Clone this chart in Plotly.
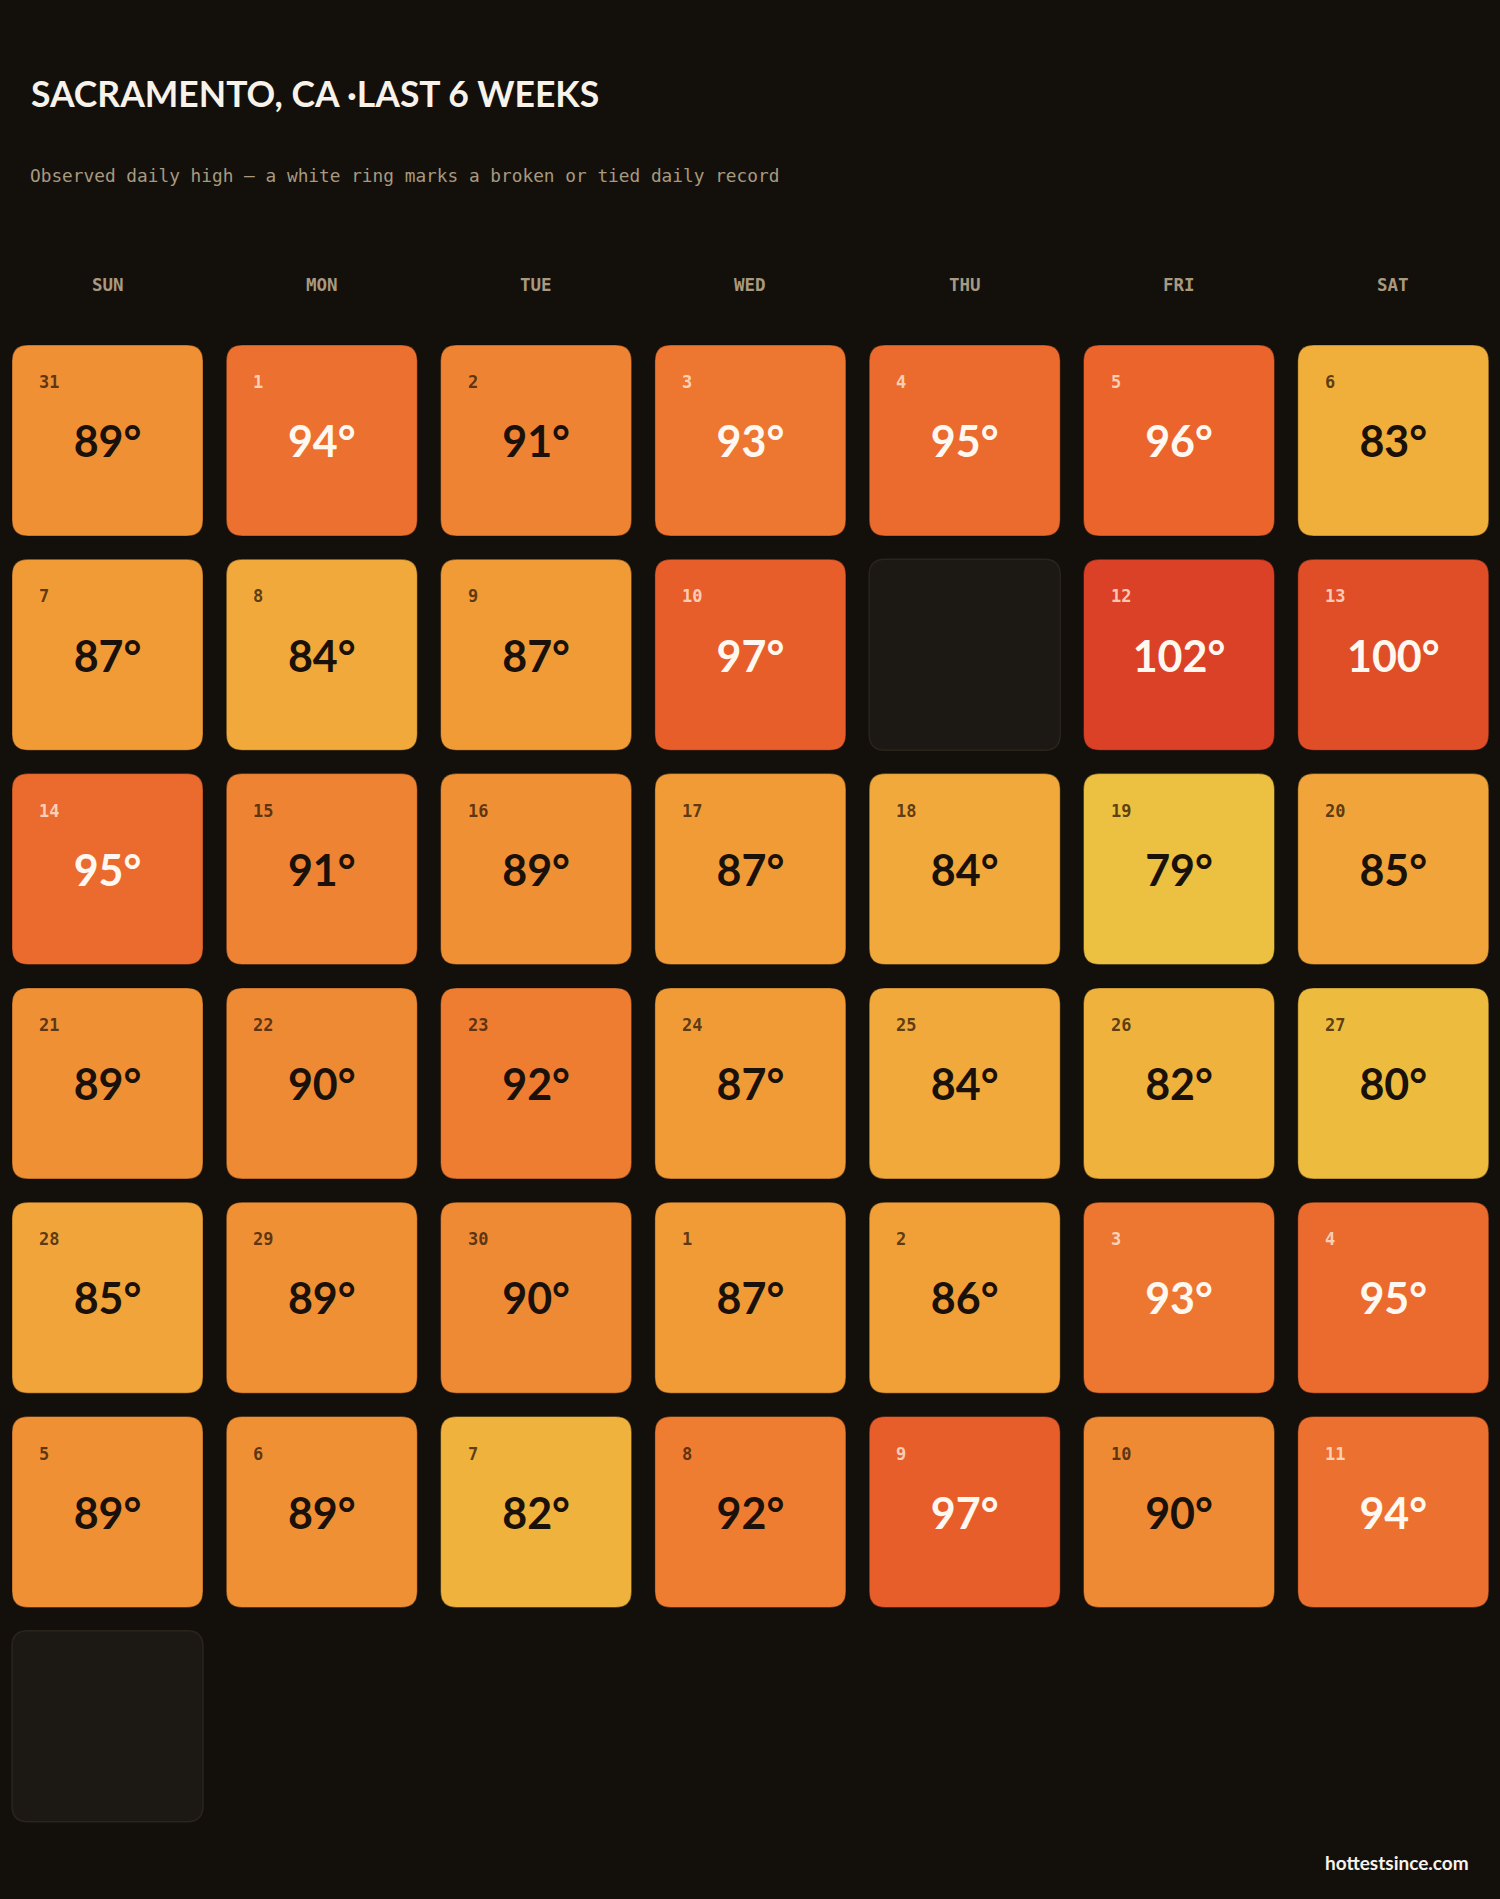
import plotly.graph_objects as go
from plotly.colors import sample_colorscale

# ---------------- data ----------------
title_text = "SACRAMENTO, CA ·LAST 6 WEEKS"
subtitle_text = "Observed daily high — a white ring marks a broken or tied daily record"
footer_text = "hottestsince.com"
weekdays = ["SUN", "MON", "TUE", "WED", "THU", "FRI", "SAT"]

day_numbers = [31] + list(range(1, 31)) + list(range(1, 13))
daily_highs = [
    89, 94, 91, 93, 95, 96, 83,
    87, 84, 87, 97, None, 102, 100,
    95, 91, 89, 87, 84, 79, 85,
    89, 90, 92, 87, 84, 82, 80,
    85, 89, 90, 87, 86, 93, 95,
    89, 89, 82, 92, 97, 90, 94,
    None,
]
record_days = [False] * len(daily_highs)

# colour scale (temperature -> colour)
scale_temps = [79, 83, 87, 90, 93, 96, 100, 102]
scale_colors = ["#ecc040", "#f0ae3b", "#f19b37", "#ef8a34", "#ed7631", "#ea642c", "#e04e28", "#db4126"]

# ---------------- style / layout ----------------
W, H = 1500, 1899
BG = "#13100c"
GRID_X0, GRID_Y0 = 12, 345
PITCH = 214.3
CELL = 191
RAD = 16
WHITE_TEXT_FROM = 93

tmin, tmax = scale_temps[0], scale_temps[-1]
colorscale = [[(t - tmin) / (tmax - tmin), c] for t, c in zip(scale_temps, scale_colors)]


def rounded_path(x0, y0, x1, y1, r):
    return (f"M {x0+r},{y0} L {x1-r},{y0} Q {x1},{y0} {x1},{y0+r} "
            f"L {x1},{y1-r} Q {x1},{y1} {x1-r},{y1} L {x0+r},{y1} "
            f"Q {x0},{y1} {x0},{y1-r} L {x0},{y0+r} Q {x0},{y0} {x0+r},{y0} Z")


shapes = []
tx, ty, ttext, tcol = [], [], [], []
dx, dy, dtext, dcol = [], [], [], []

for i, (d, t) in enumerate(zip(day_numbers, daily_highs)):
    col, row = i % 7, i // 7
    x0 = GRID_X0 + col * PITCH
    y0 = GRID_Y0 + row * PITCH
    x1, y1 = x0 + CELL, y0 + CELL
    if t is None:
        shapes.append(dict(type="path", path=rounded_path(x0, y0, x1, y1, RAD),
                           xref="x", yref="y", fillcolor="#1c1813",
                           line=dict(color="#2a241b", width=1.5), layer="below"))
        continue
    fill = sample_colorscale(colorscale, [(t - tmin) / (tmax - tmin)], colortype="rgb")[0]
    shapes.append(dict(type="path", path=rounded_path(x0, y0, x1, y1, RAD),
                       xref="x", yref="y", fillcolor=fill,
                       line=dict(color="rgba(0,0,0,0.35)", width=1), layer="below"))
    if record_days[i]:
        shapes.append(dict(type="path", path=rounded_path(x0 + 3, y0 + 3, x1 - 3, y1 - 3, RAD - 3),
                           xref="x", yref="y", fillcolor="rgba(0,0,0,0)",
                           line=dict(color="white", width=3)))
    light = t >= WHITE_TEXT_FROM
    tx.append(x0 + CELL / 2)
    ty.append(y0 + CELL / 2 + 6)
    ttext.append(f"{t}°")
    tcol.append("#fff8f0" if light else "#1a110a")
    dx.append(x0 + 25)
    dy.append(y0 + 37)
    dtext.append(str(d))
    dcol.append("rgba(255,236,222,0.8)" if light else "rgba(55,30,8,0.8)")

fig = go.Figure()
fig.add_trace(go.Scatter(x=tx, y=ty, mode="text", text=ttext, textposition="middle center",
                         textfont=dict(family="Lato", size=43, color=tcol, weight=700),
                         hoverinfo="skip", showlegend=False))

annotations = []
for x, y, s, c in zip(dx, dy, dtext, dcol):
    annotations.append(dict(x=x, y=y, xref="x", yref="y", text=s, showarrow=False,
                            xanchor="left", yanchor="middle",
                            font=dict(family="DejaVu Sans Mono", size=17, color=c, weight=700)))

for c, name in enumerate(weekdays):
    annotations.append(dict(x=GRID_X0 + c * PITCH + CELL / 2, y=285, xref="x", yref="y",
                            text=name, showarrow=False, xanchor="center", yanchor="middle",
                            font=dict(family="DejaVu Sans Mono", size=17.5, color="#a8997f", weight=700)))

annotations.append(dict(x=29, y=93, xref="x", yref="y", text=title_text, showarrow=False,
                        xanchor="left", yanchor="middle",
                        font=dict(family="Lato", size=35.5, color="#f7f2ea", weight=700)))
annotations.append(dict(x=28, y=175, xref="x", yref="y", text=subtitle_text, showarrow=False,
                        xanchor="left", yanchor="middle",
                        font=dict(family="DejaVu Sans Mono", size=17.8, color="#a8997f")))
annotations.append(dict(x=1471, y=1862, xref="x", yref="y", text=footer_text, showarrow=False,
                        xanchor="right", yanchor="middle",
                        font=dict(family="Lato", size=19, color="#f7f2ea", weight=700)))

fig.update_layout(
    width=W, height=H,
    margin=dict(l=0, r=0, t=0, b=0),
    paper_bgcolor=BG, plot_bgcolor=BG,
    xaxis=dict(range=[0, W], visible=False, fixedrange=True),
    yaxis=dict(range=[H, 0], visible=False, fixedrange=True),
    shapes=shapes, annotations=annotations,
    showlegend=False,
)

fig.write_html("out.html")
